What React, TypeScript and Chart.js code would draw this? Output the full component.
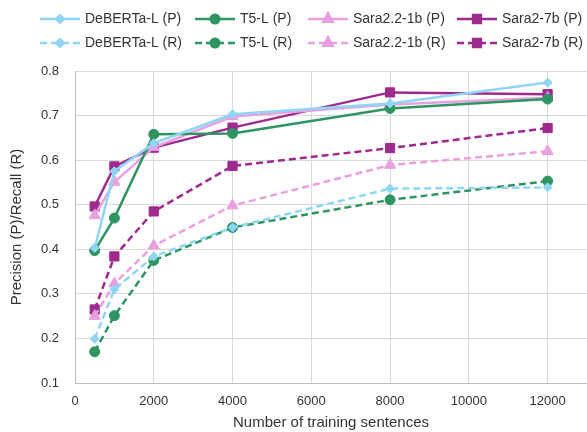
import React, { useEffect, useRef } from 'react';
import { Chart, registerables } from 'chart.js';
import { drawPoint } from 'chart.js/helpers';

Chart.register(...registerables);

const trainingSizes = [500, 1000, 2000, 4000, 8000, 12000];
const seriesLabels = [
  'DeBERTa-L (P)', 'T5-L (P)', 'Sara2.2-1b (P)', 'Sara2-7b (P)',
  'DeBERTa-L (R)', 'T5-L (R)', 'Sara2.2-1b (R)', 'Sara2-7b (R)',
];
const debertaP = [0.403, 0.575, 0.638, 0.703, 0.727, 0.774];
const t5P = [0.397, 0.470, 0.658, 0.660, 0.716, 0.737];
const sara22P = [0.476, 0.551, 0.629, 0.698, 0.725, 0.740];
const sara7P = [0.496, 0.586, 0.628, 0.673, 0.752, 0.748];
const debertaR = [0.199, 0.310, 0.384, 0.449, 0.536, 0.539];
const t5R = [0.170, 0.251, 0.375, 0.449, 0.511, 0.553];
const sara22R = [0.250, 0.323, 0.408, 0.498, 0.589, 0.620];
const sara7R = [0.265, 0.384, 0.485, 0.587, 0.627, 0.672];
const xTickValues = [0, 2000, 4000, 6000, 8000, 10000, 12000];

const COLORS = ['#8fd6f5', '#2e9462', '#e8a0e0', '#9e2a8e'];
const STYLES = ['rectRot', 'circle', 'triangle', 'rect'];
const RADII = [4.5, 5, 6.5, 6.5];

const allValues = [debertaP, t5P, sara22P, sara7P, debertaR, t5R, sara22R, sara7R];

const FONT = '"Liberation Sans", Arial, sans-serif';

const legendPlugin = {
  id: 'customLegend',
  afterDraw(chart: any) {
    const ctx = chart.ctx as CanvasRenderingContext2D;
    const cols = [40, 195, 308, 457];
    const rows = [19, 43];
    chart.data.datasets.forEach((ds: any, i: number) => {
      const x0 = cols[i % 4];
      const y = rows[Math.floor(i / 4)];
      ctx.save();
      ctx.strokeStyle = ds.borderColor;
      ctx.lineWidth = ds.borderWidth;
      ctx.setLineDash(ds.borderDash || []);
      ctx.beginPath();
      ctx.moveTo(x0, y);
      ctx.lineTo(x0 + 40, y);
      ctx.stroke();
      ctx.setLineDash([]);
      ctx.fillStyle = ds.pointBackgroundColor;
      ctx.strokeStyle = ds.pointBorderColor;
      drawPoint(ctx, { pointStyle: ds.pointStyle, radius: ds.pointRadius * 0.85, borderWidth: 1, rotation: 0 } as any, x0 + 20, y);
      ctx.fillStyle = '#333';
      ctx.font = `14px ${FONT}`;
      ctx.textBaseline = 'middle';
      ctx.textAlign = 'left';
      ctx.fillText(ds.label, x0 + 45, y);
      ctx.restore();
    });
  },
};

export default function App() {
  const ref = useRef<HTMLCanvasElement>(null);
  useEffect(() => {
    document.body.style.margin = '0';
    if (!ref.current) return;
    const datasets = allValues.map((vals, i) => {
      const k = i % 4;
      const recall = i >= 4;
      return {
        label: seriesLabels[i],
        data: trainingSizes.map((x, j) => ({ x, y: vals[j] })),
        borderColor: COLORS[k],
        backgroundColor: COLORS[k],
        pointBackgroundColor: COLORS[k],
        pointBorderColor: COLORS[k],
        pointBorderWidth: 1,
        pointStyle: STYLES[k],
        pointRadius: RADII[k],
        borderWidth: 2.5,
        borderDash: recall ? [7, 4] : [],
        tension: 0,
      };
    });
    const chart = new Chart(ref.current, {
      type: 'line',
      data: { datasets },
      options: {
        animation: false,
        responsive: false,
        layout: { autoPadding: false, padding: { top: 71, left: 0, right: 0, bottom: 0 } },
        plugins: { legend: { display: false }, tooltip: { enabled: false } },
        scales: {
          x: {
            type: 'linear',
            min: 0,
            max: 13000,
            afterBuildTicks: (axis: any) => {
              axis.ticks = xTickValues.map((v) => ({ value: v }));
            },
            afterFit: (scale: any) => {
              scale.height = 49;
              scale.paddingRight = 0;
              scale.paddingLeft = 0;
            },
            grid: { color: '#d9d9d9', drawTicks: false },
            border: { color: '#bfbfbf' },
            ticks: {
              padding: 11,
              color: '#333',
              font: { size: 13, family: FONT },
              maxRotation: 0,
              callback: (v: any) => String(v),
            },
            title: { display: true, text: 'Number of training sentences', color: '#333', font: { size: 15, family: FONT }, padding: { top: 4, bottom: 0 } },
          },
          y: {
            min: 0.1,
            max: 0.8,
            afterFit: (scale: any) => { scale.width = 75; },
            grid: { color: '#d9d9d9', drawTicks: false },
            border: { color: '#bfbfbf' },
            ticks: { stepSize: 0.1, padding: 16, color: '#333', font: { size: 13, family: FONT }, callback: (v: any) => Number(v).toFixed(1) },
            title: { display: true, text: 'Precision (P)/Recall (R)', color: '#333', font: { size: 15, family: FONT }, padding: { top: 8, bottom: 4 } },
          },
        },
      },
      plugins: [legendPlugin],
    });
    return () => chart.destroy();
  }, []);
  return (
    <div style={{ width: 587, height: 432 }}>
      <canvas ref={ref} width={587} height={432} />
    </div>
  );
}
